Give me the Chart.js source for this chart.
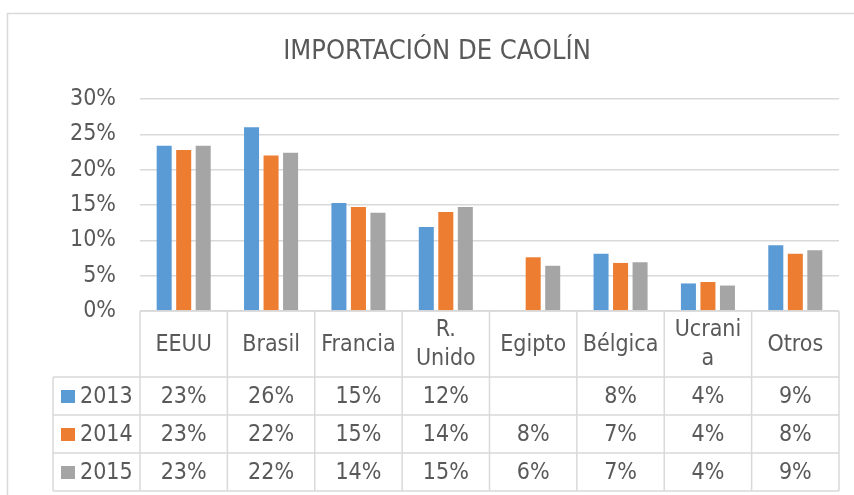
<!DOCTYPE html>
<html>
<head>
<meta charset="utf-8">
<script src="https://cdn.jsdelivr.net/npm/chart.js@4"></script>
<style>
  html, body { margin: 0; padding: 0; background: #fff; }
  canvas { display: block; }
</style>
</head>
<body>
<canvas id="caolinChart" width="854" height="495"></canvas>
<script>
// Data
const chartTitle = 'IMPORTACIÓN DE CAOLÍN';
const categories = ['EEUU', 'Brasil', 'Francia', ['R.', 'Unido'], 'Egipto', 'Bélgica', ['Ucrani', 'a'], 'Otros'];
const years = ['2013', '2014', '2015'];
const values2013 = [0.234, 0.260, 0.153, 0.119, null, 0.081, 0.039, 0.093];
const values2014 = [0.228, 0.220, 0.147, 0.140, 0.076, 0.068, 0.041, 0.081];
const values2015 = [0.234, 0.224, 0.139, 0.147, 0.064, 0.069, 0.036, 0.086];
const yTicks = [0, 0.05, 0.10, 0.15, 0.20, 0.25, 0.30];

const colors = ['#5B9BD5', '#ED7D31', '#A5A5A5'];
const textColor = '#595959';
const lineColor = '#D9D9D9';
const fontFamily = "'DejaVu Sans Condensed', 'DejaVu Sans', sans-serif";

const pct = v => Math.round(v * 100) + '%';

// Title, outer frame and the data table under the plot
const tablePlugin = {
    id: 'dataTable',
    afterDraw(chart) {
        const ctx = chart.ctx;
        const area = chart.chartArea;
        const x = chart.scales.x;
        const n = chart.data.labels.length;
        const colW = (area.right - area.left) / n;
        const headerBottom = area.bottom + 66;
        const rowH = 38;
        const legendLeft = 53;
        const tableBottom = headerBottom + rowH * chart.data.datasets.length;

        ctx.save();

        // outer frame
        ctx.strokeStyle = lineColor;
        ctx.lineWidth = 1.5;
        ctx.beginPath();
        ctx.moveTo(7.5, chart.height + 5);
        ctx.lineTo(7.5, 13.5);
        ctx.lineTo(chart.width + 5, 13.5);
        ctx.stroke();

        // title
        ctx.fillStyle = textColor;
        ctx.font = '27px ' + fontFamily;
        ctx.textAlign = 'center';
        ctx.textBaseline = 'middle';
        ctx.fillText(chartTitle, 437, 52);

        // table grid
        ctx.beginPath();
        ctx.moveTo(area.left, area.bottom);
        ctx.lineTo(area.right, area.bottom);
        for (let r = 0; r <= chart.data.datasets.length; r++) {
            const y = headerBottom + r * rowH;
            ctx.moveTo(legendLeft, y);
            ctx.lineTo(area.right, y);
        }
        for (let i = 0; i <= n; i++) {
            const xx = area.left + i * colW;
            ctx.moveTo(xx, area.bottom);
            ctx.lineTo(xx, tableBottom);
        }
        ctx.moveTo(legendLeft, headerBottom);
        ctx.lineTo(legendLeft, tableBottom);
        ctx.stroke();

        // header labels
        ctx.font = '23px ' + fontFamily;
        ctx.fillStyle = textColor;
        const headerMid = (area.bottom + headerBottom) / 2 + 1;
        chart.data.labels.forEach((label, i) => {
            const cx = x.getPixelForValue(i);
            const lines = Array.isArray(label) ? label : [label];
            const lh = 29;
            lines.forEach((line, k) => {
                const cy = headerMid + (k - (lines.length - 1) / 2) * lh;
                ctx.fillText(line, cx, cy);
            });
        });

        // data rows with legend keys
        chart.data.datasets.forEach((ds, r) => {
            const cy = headerBottom + r * rowH + rowH / 2 + 1;
            ctx.fillStyle = ds.backgroundColor;
            ctx.fillRect(61, cy - 7, 14, 13);
            ctx.fillStyle = textColor;
            ctx.textAlign = 'left';
            ctx.fillText(ds.label, 80, cy);
            ctx.textAlign = 'center';
            ds.data.forEach((v, i) => {
                if (v === null) return;
                ctx.fillText(pct(v), x.getPixelForValue(i), cy);
            });
        });

        ctx.restore();
    }
};

const ctx = document.getElementById('caolinChart');

new Chart(ctx, {
    type: 'bar',
    data: {
        labels: categories,
        datasets: [
            { label: years[0], data: values2013, backgroundColor: colors[0] },
            { label: years[1], data: values2014, backgroundColor: colors[1] },
            { label: years[2], data: values2015, backgroundColor: colors[2] }
        ]
    },
    options: {
        responsive: false,
        animation: false,
        devicePixelRatio: 1,
        layout: {
            padding: { top: 99, right: 15, bottom: 184, left: 0 }
        },
        datasets: {
            bar: {
                categoryPercentage: 0.67,
                barPercentage: 0.77
            }
        },
        plugins: {
            legend: { display: false },
            title: { display: false },
            tooltip: { enabled: false }
        },
        scales: {
            x: {
                display: false
            },
            y: {
                min: 0,
                max: 0.3,
                afterFit(scale) { scale.width = 140; },
                afterBuildTicks(scale) {
                    scale.ticks = yTicks.map(v => ({ value: v }));
                },
                ticks: {
                    padding: 24,
                    color: textColor,
                    font: { family: fontFamily, size: 23 },
                    callback: v => pct(v)
                },
                grid: {
                    color: lineColor,
                    lineWidth: 1.5,
                    drawTicks: false
                },
                border: { display: false }
            }
        }
    },
    plugins: [tablePlugin]
});
</script>
</body>
</html>
